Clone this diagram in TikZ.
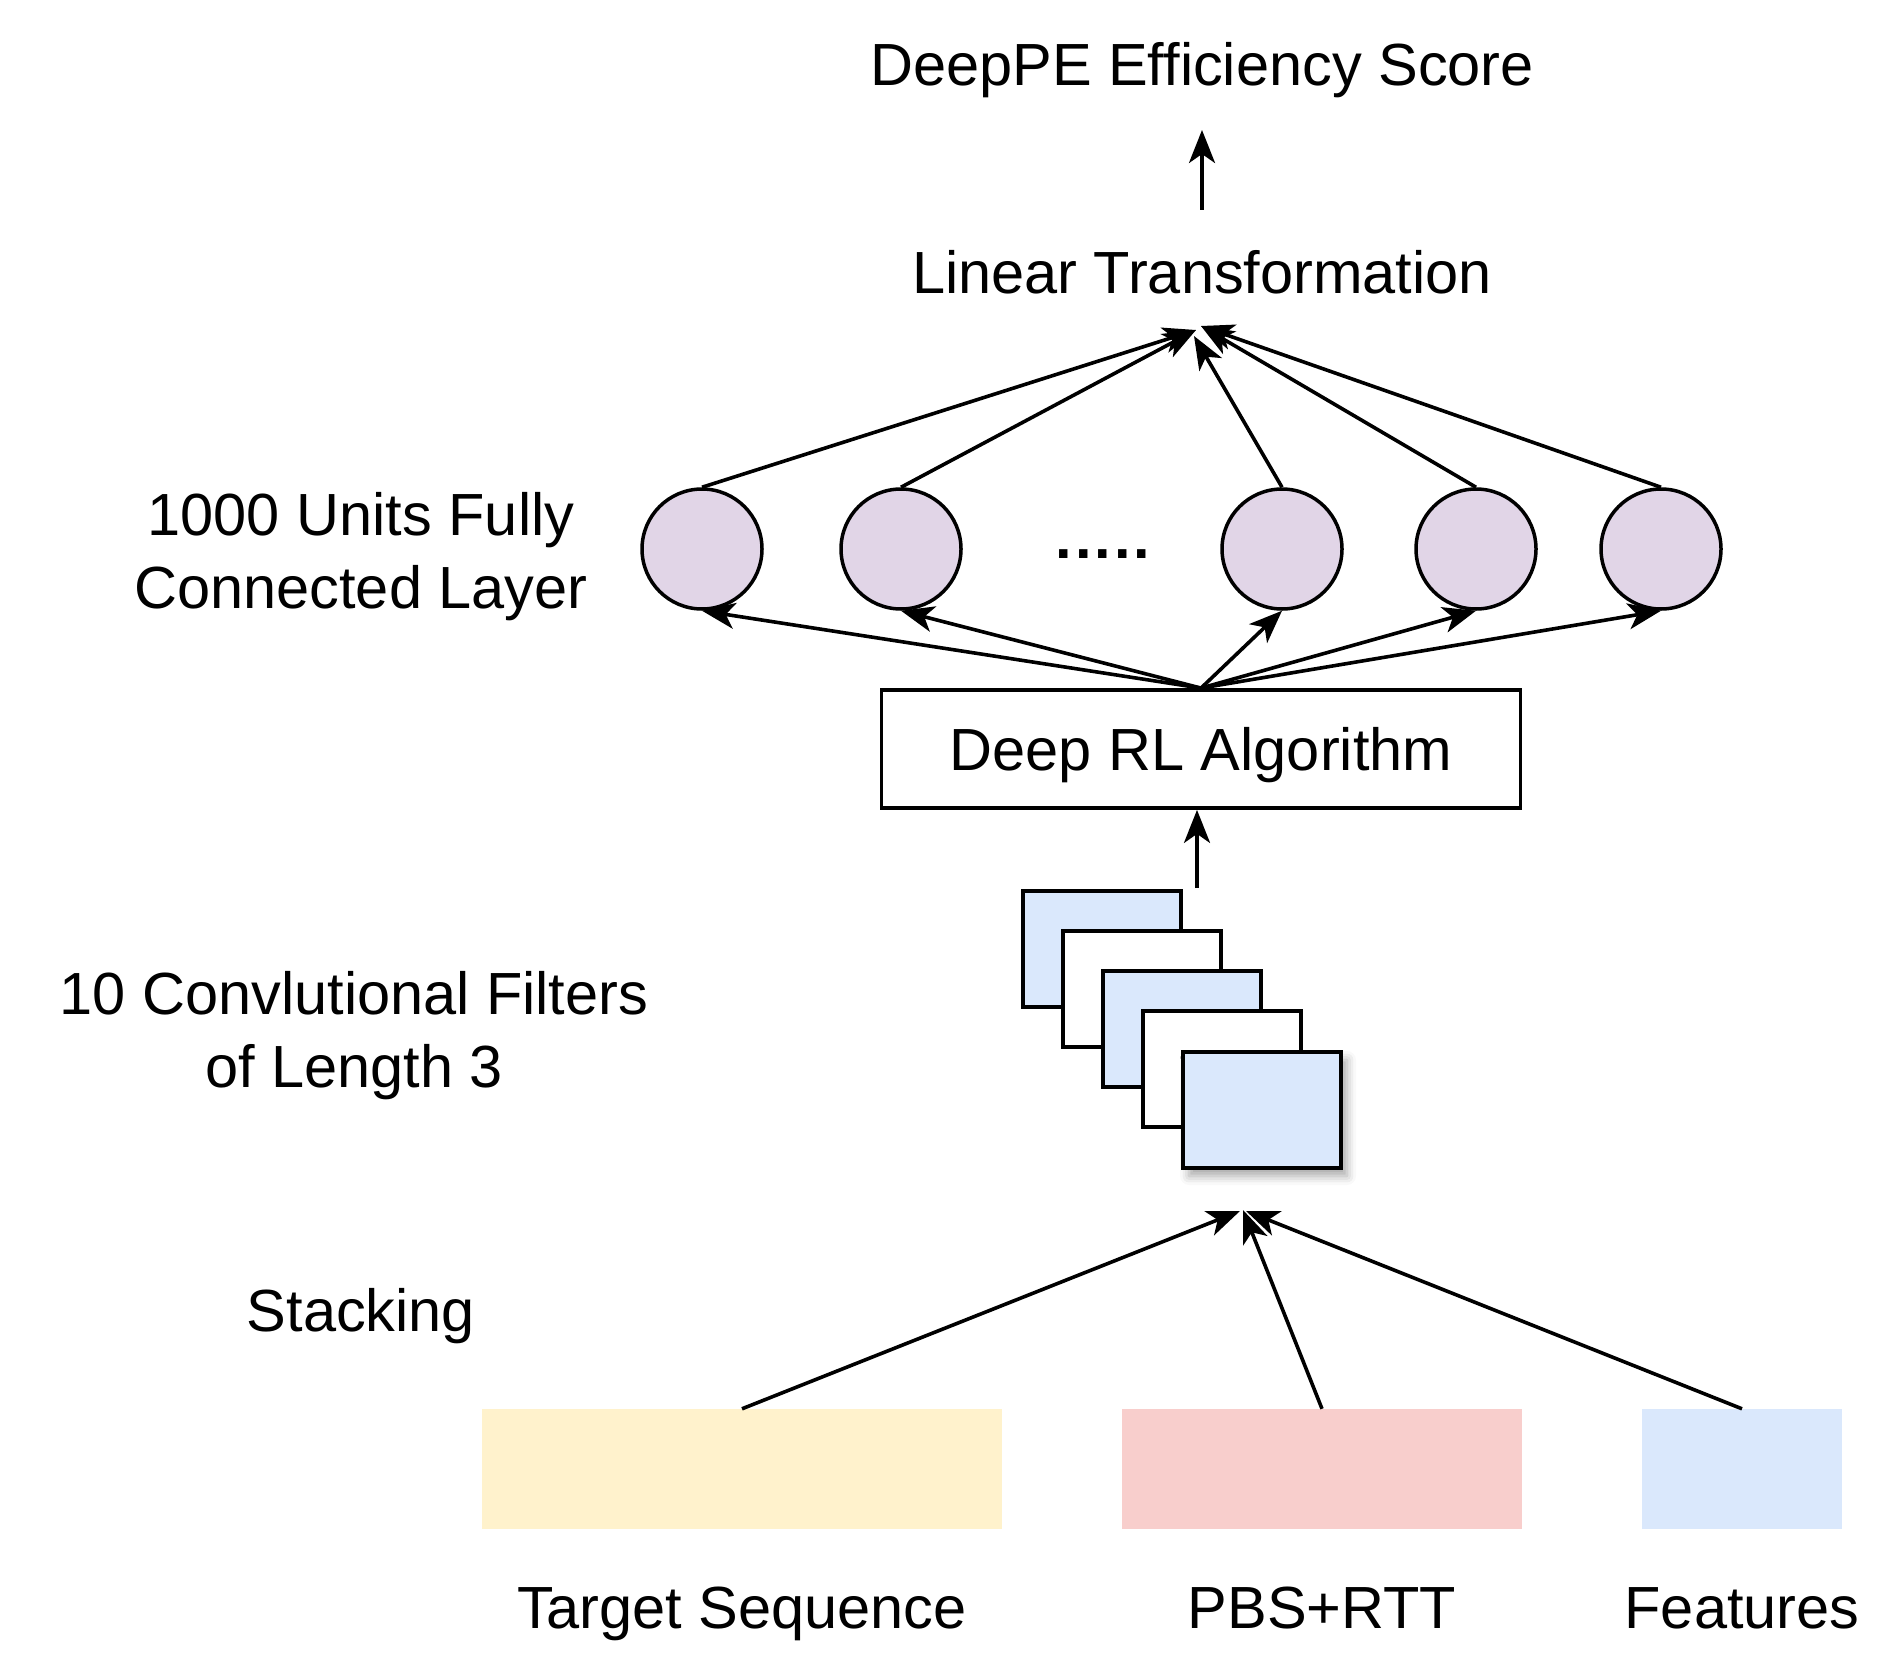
\documentclass[tikz,border=0pt]{standalone}
\usepackage{fontspec}
\setmainfont{Liberation Sans}
\usetikzlibrary{arrows.meta,shadows.blur}
\definecolor{cpurple}{HTML}{E1D5E7}
\definecolor{cblue}{HTML}{DAE8FC}
\definecolor{cyellow}{HTML}{FFF2CC}
\definecolor{cpink}{HTML}{F8CECC}
\tikzset{
  lbl/.style={font=\fontsize{59.5}{73}\selectfont, align=center, inner sep=0pt},
  unit/.style={circle, draw, line width=3.5pt, fill=cpurple, minimum size=120pt, inner sep=0pt},
  filt/.style={draw, line width=3.8pt, minimum width=158pt, minimum height=116pt, inner sep=0pt},
  inbox/.style={minimum height=120pt, inner sep=0pt},
  conn/.style={line width=3.6pt, -{Stealth[length=33pt,width=26pt,inset=9pt]}},
}
\begin{document}
\begin{tikzpicture}[x=1pt,y=-1pt]
\useasboundingbox (0,0) rectangle (1900,1664);
% top texts
\node[lbl] (score) at (1202,70) {DeepPE Efficiency Score};
\node[lbl] (lin) at (1202,272) {Linear Transformation};
\coordinate (linbot) at (1202,210);
\coordinate (tl) at (1196,330);
\coordinate (tm) at (1194,336);
\coordinate (tr) at (1201,326);
\draw[conn] (linbot) -- (linbot |- 0,130);
% units
\node[unit] (c1) at (702,549) {};
\node[unit] (c2) at (901,549) {};
\node[unit] (c3) at (1282,549) {};
\node[unit] (c4) at (1476,549) {};
\node[unit] (c5) at (1661,549) {};
\node[lbl, font=\fontsize{59.5}{70}\selectfont\bfseries] (dots) at (1103,554) {.\kern3pt.\kern3pt.\kern3pt.\kern3pt.};
% deep RL
\node[draw, line width=3.8pt, minimum width=639pt, minimum height=118pt, inner sep=0pt, text height=42pt, text depth=0pt, font=\fontsize{59.5}{70}\selectfont] (rl) at (1201,749) {Deep RL Algorithm};
\draw[conn] (c1.north) -- (tl);
\draw[conn] (c2.north) -- (tl);
\draw[conn] (c3.north) -- (tm);
\draw[conn] (c4.north) -- (tr);
\draw[conn] (c5.north) -- (tr);
\draw[conn] (rl.north) -- (c1.south);
\draw[conn] (rl.north) -- (c2.south);
\draw[conn] (rl.north) -- (c3.south);
\draw[conn] (rl.north) -- (c4.south);
\draw[conn] (rl.north) -- (c5.south);
% filters
\node[filt, fill=cblue] (f1) at (1102,949) {};
\node[filt, fill=white] (f2) at (1142,989) {};
\node[filt, fill=cblue] (f3) at (1182,1029) {};
\node[filt, fill=white] (f4) at (1222,1069) {};
\node[filt, fill=cblue, blur shadow={shadow xshift=6pt, shadow yshift=-8pt, shadow blur radius=9pt, shadow opacity=35}] (f5) at (1262,1110) {};
\coordinate (fout) at (1197,888);
\draw[conn] (fout) -- (rl.south -| fout);
% inputs
\node[inbox, fill=cyellow, minimum width=520pt] (ts) at (742,1469) {};
\node[inbox, fill=cpink, minimum width=400pt] (pbs) at (1322,1469) {};
\node[inbox, fill=cblue, minimum width=200pt] (feat) at (1742,1469) {};
\coordinate (sl) at (1240,1211);
\coordinate (sm) at (1243,1210);
\coordinate (sr) at (1246,1211);
\draw[conn] (ts.north) -- (sl);
\draw[conn] (pbs.north) -- (sm);
\draw[conn] (feat.north) -- (sr);
\node[lbl] (tsl) at (742,1614) {Target Sequence};
\node[lbl] (pbsl) at (1322,1608) {PBS+RTT};
\node[lbl] (featl) at (1742,1608) {Features};
% left labels
\node[lbl] (l1) at (361,557) {1000 Units Fully\\Connected Layer};
\node[lbl] (l2) at (354,1036) {10 Convlutional Filters\\of Length 3};
\node[lbl] (l3) at (361,1316) {Stacking};
\end{tikzpicture}
\end{document}
